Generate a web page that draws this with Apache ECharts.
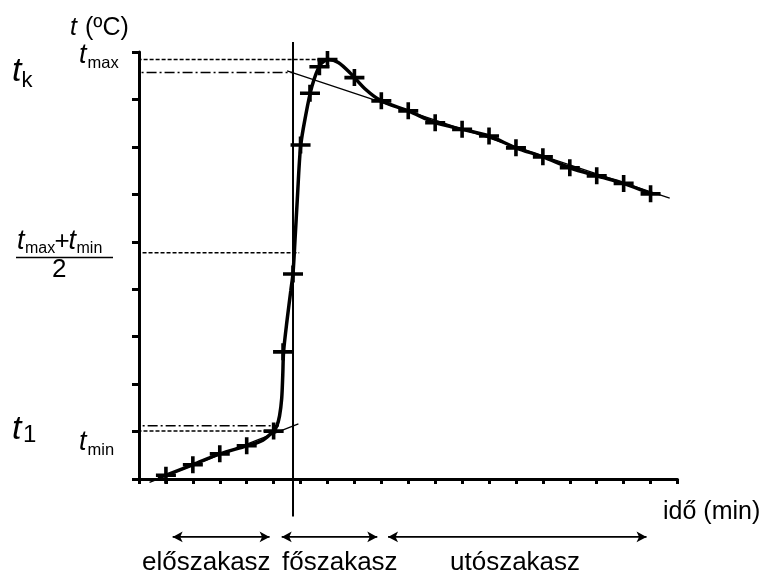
<!DOCTYPE html>
<html><head><meta charset="utf-8">
<script src="https://cdn.jsdelivr.net/npm/echarts@6/dist/echarts.min.js"></script>
<style>html,body{margin:0;padding:0;background:#fff}#c{width:769px;height:574px}</style>
</head><body><div id="c"></div>
<script>
// ---- data (axis units: time in min, temperature in tick units) ----
const preTimes = [1, 2, 3, 4, 5];
const preTemps = [0.08, 0.30, 0.53, 0.70, 1.01];
const mainTimes = [5.35, 5.72, 6.0, 6.35, 6.7, 7.0];
const mainTemps = [2.68, 4.32, 7.04, 8.13, 8.69, 8.84];
const postTimes = [8, 9, 10, 11, 12, 13, 14, 15, 16, 17, 18, 19];
const postTemps = [8.46, 7.97, 7.76, 7.51, 7.37, 7.23, 6.98, 6.79, 6.56, 6.39, 6.23, 6.01];
const curveX = [0.7, 1, 2, 3, 4, 4.6, 5, 5.12, 5.22, 5.3, 5.34, 5.37, 5.5, 5.64, 5.72, 5.8, 5.88, 6.0, 6.17, 6.42, 6.73, 7.04, 7.4, 7.84, 8.4, 9, 10, 11, 12, 13, 14, 15, 16, 17, 18, 19];
const curveY = [0.03, 0.08, 0.30, 0.53, 0.70, 0.82, 1.01, 1.12, 1.33, 1.7, 2.2, 2.68, 3.35, 3.98, 4.34, 5.1, 5.9, 7.0, 7.6, 8.27, 8.73, 8.84, 8.78, 8.56, 8.22, 7.97, 7.76, 7.51, 7.37, 7.23, 6.98, 6.79, 6.56, 6.39, 6.23, 6.01];
const preFitX = [0.39, 5.92];
const preFitY = [-0.07, 1.16];
const postFitX = [5.5, 19.71];
const postFitY = [8.60, 5.92];
const tMax = 8.84, tK = 8.57, tHalf = 4.77, t1 = 1.12, tMin = 1.01;
const tHalfTime = 5.72;
const phaseBounds = [1.25, 4.85, 5.3, 8.85, 9.25, 18.85];
const phaseNames = ['előszakasz', 'főszakasz', 'utószakasz'];
const xTicks = {min: 0, max: 20, step: 1};
const yTicks = {min: 0, max: 9, step: 1};

const FF = '"Liberation Sans", Arial, sans-serif';
const pairs = (xs, ys) => xs.map((x, i) => [x, ys[i]]);
const crossPath = 'path://M0,6.7H8.2V0H11.8V6.7H20V10.3H11.8V17H8.2V10.3H0Z';

function hline(y, x0, x1, type) {
  return {type: 'line', data: [[x0, y], [x1, y]], clip: false, symbol: 'none', silent: true,
    lineStyle: {color: '#000', width: 1.5, type: type}, z: 2};
}
const DASH = [4, 2];
const DASHDOT = [10, 3, 2, 3];
const series = [
  hline(tK, -3.73, tHalfTime, DASHDOT),
  hline(tMax, -0.72, 6.95, DASH),
  hline(tHalf, -0.76, 5.95, DASH),
  hline(t1, -3.69, 5.2, DASHDOT),
  hline(tMin, -1.17, 5.0, DASH),
  {type: 'line', data: [[tHalfTime, -0.79], [tHalfTime, 9.21]], clip: false, symbol: 'none', silent: true,
    lineStyle: {color: '#000', width: 2}, z: 2},
  {type: 'line', data: pairs(preFitX, preFitY), clip: false, symbol: 'none', lineStyle: {color: '#000', width: 1.3}, z: 3},
  {type: 'line', data: pairs(postFitX, postFitY), clip: false, symbol: 'none', lineStyle: {color: '#000', width: 1.3}, z: 3},
  {type: 'line', data: pairs(curveX, curveY), clip: false, symbol: 'none', smooth: 0.3,
    lineStyle: {color: '#000', width: 3.5}, z: 4},
  {type: 'scatter', data: pairs(preTimes, preTemps).concat(pairs(mainTimes, mainTemps), pairs(postTimes, postTemps)),
    symbol: crossPath, symbolSize: [20, 17], itemStyle: {color: '#000', opacity: 1}, clip: false, z: 5}
];
for (let i = 0; i < 3; i++) {
  series.push({type: 'line', clip: false, silent: true,
    data: [{value: [phaseBounds[2 * i], -1.22], symbolRotate: 90}, {value: [phaseBounds[2 * i + 1], -1.22], symbolRotate: -90}],
    symbol: 'arrow', symbolSize: [8, 10], itemStyle: {color: '#000'},
    lineStyle: {color: '#000', width: 1.8}, z: 3});
}

function lab(text, x, base, size, italic) {
  return {type: 'text', x: x, y: base - 0.3465 * size, z: 10,
    style: {text: text, fill: '#000', font: (italic ? 'italic ' : '') + size + 'px ' + FF,
      align: 'left', verticalAlign: 'middle', textAlign: 'left', textVerticalAlign: 'middle'}};
}
const graphic = [
  lab('t', 70, 37, 25, true), lab('(ºC)', 85, 37, 25, false),
  lab('t', 79, 65, 27, true), lab('max', 87.5, 69, 16.5, false),
  lab('t', 12, 83, 34, true), lab('k', 21.5, 89, 22, false),
  lab('t', 17, 251, 27, true), lab('max', 25, 254, 16, false), lab('+', 54.5, 251, 26, false),
  lab('t', 68.5, 251, 27, true), lab('min', 76.5, 254, 16, false),
  {type: 'line', shape: {x1: 16, y1: 257.5, x2: 113, y2: 257.5}, style: {stroke: '#000', lineWidth: 1.5}, z: 10},
  lab('2', 52, 279, 26, false),
  lab('t', 12, 441, 34, true), lab('1', 23, 444, 24, false),
  lab('t', 79, 452, 27, true), lab('min', 87.5, 456, 16.5, false),
  lab('idő (min)', 663, 521, 25, false),
  lab(phaseNames[0], 142, 572, 26, false),
  lab(phaseNames[1], 282, 572, 26, false),
  lab(phaseNames[2], 450, 572, 26, false)
];

const chart = echarts.init(document.getElementById('c'), null, {renderer: 'canvas'});
chart.setOption({
  animation: false,
  backgroundColor: '#fff',
  grid: {left: 139, right: 91.5, top: 52, bottom: 95},
  xAxis: {type: 'value', min: xTicks.min, max: xTicks.max, interval: xTicks.step,
    axisLine: {show: true, onZero: false, lineStyle: {color: '#000', width: 3}},
    axisTick: {show: true, length: 5, lineStyle: {color: '#000', width: 3}},
    axisLabel: {show: false}, splitLine: {show: false}},
  yAxis: {type: 'value', min: yTicks.min, max: yTicks.max, interval: yTicks.step,
    axisLine: {show: true, onZero: false, lineStyle: {color: '#000', width: 3}},
    axisTick: {show: true, length: 7, lineStyle: {color: '#000', width: 3}},
    axisLabel: {show: false}, splitLine: {show: false}},
  series: series,
  graphic: graphic
});
</script></body></html>
